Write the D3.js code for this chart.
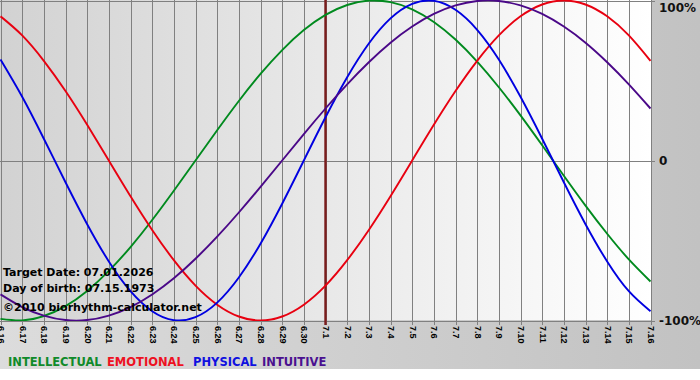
<!DOCTYPE html>
<html>
<head>
<meta charset="utf-8">
<script src="https://cdn.jsdelivr.net/npm/d3@7"></script>
<style>
  html, body { margin: 0; padding: 0; background: #fff; }
  svg { display: block; }
</style>
</head>
<body>
<svg id="chart" width="700" height="380"></svg>
<script>
// ---- data ----
const dayLabels = ["6.16","6.17","6.18","6.19","6.20","6.21","6.22","6.23","6.24","6.25","6.26","6.27","6.28","6.29","6.30",
  "7.1","7.2","7.3","7.4","7.5","7.6","7.7","7.8","7.9","7.10","7.11","7.12","7.13","7.14","7.15","7.16"];
const intellectual = [-0.990,-0.999,-0.972,-0.910,-0.815,-0.690,-0.541,-0.372,-0.189,0.000,0.189,0.372,0.541,0.690,0.815,
  0.910,0.972,0.999,0.990,0.945,0.866,0.756,0.618,0.458,0.282,0.095,-0.095,-0.282,-0.458,-0.618,-0.756];
const emotional = [0.901,0.782,0.623,0.434,0.223,0.000,-0.223,-0.434,-0.623,-0.782,-0.901,-0.975,-1.000,-0.975,-0.901,
  -0.782,-0.623,-0.434,-0.223,0.000,0.223,0.434,0.623,0.782,0.901,0.975,1.000,0.975,0.901,0.782,0.623];
const physical = [0.631,0.398,0.136,-0.136,-0.398,-0.631,-0.817,-0.942,-0.998,-0.979,-0.888,-0.731,-0.520,-0.270,0.000,
  0.270,0.520,0.731,0.888,0.979,0.998,0.942,0.817,0.631,0.398,0.136,-0.136,-0.398,-0.631,-0.817,-0.942];
const intuitive = [-0.837,-0.916,-0.969,-0.997,-0.997,-0.969,-0.916,-0.837,-0.736,-0.614,-0.476,-0.325,-0.165,0.000,0.165,
  0.325,0.476,0.614,0.736,0.837,0.916,0.969,0.997,0.997,0.969,0.916,0.837,0.736,0.614,0.476,0.325];
const seriesNames = ["INTELLECTUAL","EMOTIONAL","PHYSICAL","INTUITIVE"];
const yTickValues = [1, 0, -1];
const yTickLabels = ["100%", "0", "-100%"];
const targetIndex = 15;
const infoLines = ["Target Date: 07.01.2026", "Day of birth: 07.15.1973", "\u00A92010 biorhythm-calculator.net"];

// ---- styling ----
const colors = ["#008a1e", "#e80010", "#0000e0", "#4a0888"];
const legendColors = ["#108a2a", "#ee1122", "#1010e0", "#4a1090"];
const series = [intellectual, emotional, physical, intuitive];

const W = 700, H = 380;
const plot = {left: 0, top: 0, right: 651, bottom: 320};
const svg = d3.select("#chart");
const defs = svg.append("defs");

const gOuter = defs.append("linearGradient").attr("id","gOuter").attr("x1","0").attr("x2","1").attr("y1","0").attr("y2","0");
gOuter.append("stop").attr("offset","0").attr("stop-color","#dcdcdc");
gOuter.append("stop").attr("offset","1").attr("stop-color","#c2c2c2");
const gPlot = defs.append("linearGradient").attr("id","gPlot").attr("x1","0").attr("x2","1").attr("y1","0").attr("y2","0");
gPlot.append("stop").attr("offset","0").attr("stop-color","#d2d2d2");
gPlot.append("stop").attr("offset","1").attr("stop-color","#ffffff");
defs.append("clipPath").attr("id","clipPlot").append("rect")
  .attr("x", plot.left).attr("y", plot.top - 1).attr("width", plot.right - plot.left + 1).attr("height", plot.bottom - plot.top + 2);

svg.append("rect").attr("x",0).attr("y",0).attr("width",W).attr("height",H).attr("fill","url(#gOuter)");
svg.append("rect").attr("x",0).attr("y",369).attr("width",W).attr("height",H-369).attr("fill","#ffffff");
svg.append("rect").attr("x",plot.left).attr("y",plot.top).attr("width",plot.right-plot.left).attr("height",plot.bottom-plot.top).attr("fill","url(#gPlot)");

const x = d3.scaleLinear().domain([0, dayLabels.length - 1]).range([plot.left + 0.5, plot.right - 0.5]);
const y = d3.scaleLinear().domain([-1, 1]).range([plot.bottom + 0.5, plot.top + 0.5]);

// vertical grid + x ticks via axis
const xAxis = d3.axisBottom(x)
  .tickValues(d3.range(dayLabels.length))
  .tickSize(plot.bottom - plot.top + 5)
  .tickFormat(i => dayLabels[i]);
const gx = svg.append("g").attr("transform", `translate(0,${plot.top})`).call(xAxis);
gx.select(".domain").remove();
gx.selectAll(".tick line").attr("stroke", "#808080").attr("stroke-width", 1)
  .attr("shape-rendering","crispEdges");
gx.selectAll(".tick text")
  .attr("font-family", "Liberation Sans, Arial, sans-serif")
  .attr("font-size", "9px").attr("font-weight", "bold").attr("fill", "#000")
  .attr("text-anchor", "start")
  .attr("transform", `translate(0,${plot.bottom - plot.top + 6}) rotate(90)`)
  .attr("x", 0).attr("y", 0).attr("dy", "0.35em");

// horizontal grid + y labels via axis
const yAxis = d3.axisRight(y).tickValues(yTickValues).tickSize(plot.right + 4)
  .tickFormat((d, i) => yTickLabels[i]);
const gy = svg.append("g").call(yAxis);
gy.select(".domain").remove();
gy.selectAll(".tick line").attr("stroke", "#808080").attr("stroke-width", 1).attr("shape-rendering","crispEdges");
gy.selectAll(".tick text")
  .attr("font-family", "DejaVu Sans, Verdana, sans-serif")
  .attr("font-size", "12px").attr("font-weight", "bold").attr("fill", "#111")
  .attr("x", plot.right + 8)
  .attr("dy", d => d === 1 ? "0.9em" : "0.35em");

// target day marker
svg.append("line")
  .attr("x1", x(targetIndex)).attr("x2", x(targetIndex))
  .attr("y1", plot.top).attr("y2", plot.bottom + 5)
  .attr("stroke", "#7a1c1c").attr("stroke-width", 2.4);

// curves
const line = d3.line().x((d, i) => x(i)).y(d => y(d)).curve(d3.curveNatural);
const gl = svg.append("g").attr("clip-path", "url(#clipPlot)");
series.forEach((s, k) => {
  gl.append("path").attr("d", line(s)).attr("fill", "none")
    .attr("stroke", colors[k]).attr("stroke-width", 1.9);
});

// info text
svg.append("g").selectAll("text").data(infoLines).join("text")
  .attr("x", 3).attr("y", (d, i) => [276, 292, 311][i])
  .attr("font-family", "DejaVu Sans, Verdana, sans-serif")
  .attr("font-size", "11px").attr("font-weight", "bold").attr("fill", "#000")
  .text(d => d);

// legend
const legendX = [8, 107, 193, 262];
svg.append("g").selectAll("text").data(seriesNames).join("text")
  .attr("x", (d, i) => legendX[i]).attr("y", 366)
  .attr("font-family", "DejaVu Sans, Verdana, sans-serif")
  .attr("font-size", "11.5px").attr("font-weight", "bold")
  .attr("fill", (d, i) => legendColors[i])
  .text(d => d);
</script>
</body>
</html>
